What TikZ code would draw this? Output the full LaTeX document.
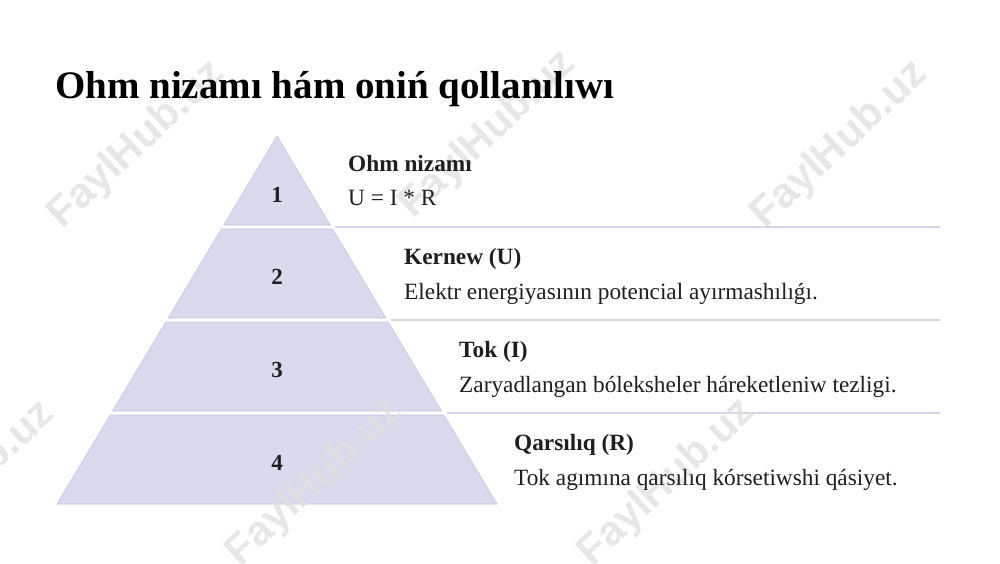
\documentclass[tikz,border=0pt]{standalone}
\usepackage{fontspec}
\setmainfont{Liberation Serif}
\newfontfamily\wmfont{Liberation Sans}
\usetikzlibrary{positioning}
\definecolor{lvfill}{RGB}{217,218,238}
\definecolor{lvdraw}{RGB}{196,198,226}
\definecolor{sepcol}{RGB}{214,214,226}

\begin{document}
\begin{tikzpicture}[x=1pt,y=-1pt,
lvl/.style={fill=lvfill,draw=lvdraw,line width=0.6pt},
num/.style={font=\fontsize{23}{27}\selectfont\bfseries,text=black!88},
hd/.style={anchor=base west,inner sep=0pt,font=\fontsize{23.3}{27}\selectfont\bfseries,text=black!88},
bd/.style={anchor=base west,inner sep=0pt,font=\fontsize{23.3}{27}\selectfont,text=black!88},
sep/.style={draw=sepcol,line width=1.2pt},
wm/.style={rotate=43,font=\wmfont\fontsize{42}{42}\selectfont\bfseries,text=black!12,opacity=0.75}]
\useasboundingbox[fill=white] (0,0) rectangle (1000,563);

% pyramid
\path[lvl] (277,136) -- (330.2,225) -- (223.8,225) -- cycle;
\path[lvl] (221.4,229) -- (332.6,229) -- (385.8,318) -- (168.2,318) -- cycle;
\path[lvl] (165.8,322) -- (388.2,322) -- (441.5,411) -- (112.5,411) -- cycle;
\path[lvl] (110.2,415) -- (443.8,415) -- (497,504) -- (57,504) -- cycle;

% separators
\coordinate (s1a) at (335,227); \coordinate (s1b) at (940,227);
\coordinate (s2a) at (391,320); \coordinate (s2b) at (940,320);
\coordinate (s3a) at (447,413); \coordinate (s3b) at (940,413);
\draw[sep] (s1a) -- (s1b);
\draw[sep] (s2a) -- (s2b);
\draw[sep] (s3a) -- (s3b);

% watermark
\node[wm] (wm1) at (137,145) {FaylHub.uz};
\node[wm] (wm2) at (488,135) {FaylHub.uz};
\node[wm] (wm3) at (840,145) {FaylHub.uz};
\node[wm] (wm4) at (-33,485) {FaylHub.uz};
\node[wm] (wm5) at (315,483) {FaylHub.uz};
\node[wm] (wm6) at (667,483) {FaylHub.uz};

\node[anchor=base west,inner sep=0pt,font=\fontsize{39}{44}\selectfont\bfseries] (title) at (55,98) {Ohm nizamı hám oniń qollanılıwı};

\node[num] (n1) at (277,195) {1};
\node[num] (n2) at (277,277) {2};
\node[num] (n3) at (277,370) {3};
\node[num] (n4) at (277,463) {4};

\node[hd] (h1) at (348,171) {Ohm nizamı};
\node[bd] (b1) at (348,205) {U = I * R};
\node[hd] (h2) at (404,264) {Kernew (U)};
\node[bd] (b2) at (404,299) {Elektr energiyasının potencial ayırmashılıǵı.};
\node[hd] (h3) at (459,357) {Tok (I)};
\node[bd] (b3) at (459,392) {Zaryadlangan bóleksheler háreketleniw tezligi.};
\node[hd] (h4) at (514,450) {Qarsılıq (R)};
\node[bd] (b4) at (514,485) {Tok agımına qarsılıq kórsetiwshi qásiyet.};
\end{tikzpicture}
\end{document}
